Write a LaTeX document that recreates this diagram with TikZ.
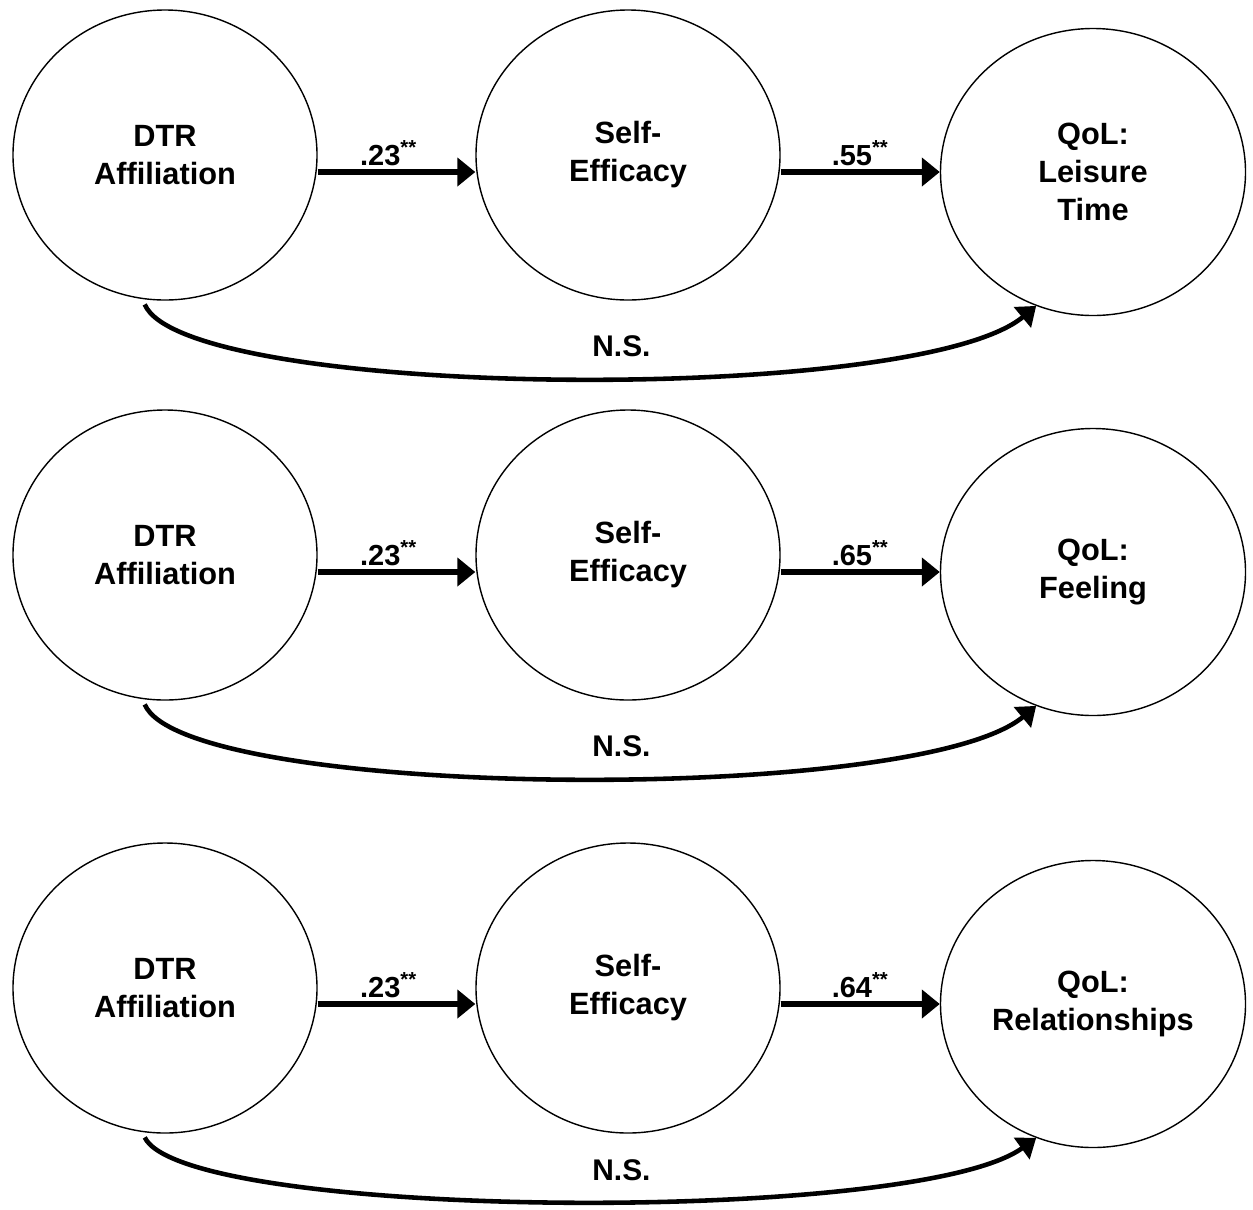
\documentclass[tikz,border=0pt]{standalone}
\usepackage{fontspec}
\setmainfont{Liberation Sans}
\usetikzlibrary{arrows.meta,calc,shapes.geometric}

\tikzset{
	latent/.style={ellipse, draw, line width=0.8pt, minimum width=6.08cm, minimum height=5.8cm, inner sep=0pt, align=center, font=\fontsize{17.5}{21.6}\selectfont\bfseries},
	outcome/.style={latent, minimum width=6.1cm, minimum height=5.74cm},
	effect/.style={line width=3pt, -{Triangle[length=3.6mm,width=5.6mm]}},
	nseffect/.style={line width=2.6pt, -{Triangle[length=3.6mm,width=5.2mm]}},
	coef/.style={above, inner sep=2pt, font=\fontsize{16.5}{18}\selectfont\bfseries},
	nslabel/.style={font=\fontsize{17}{20}\selectfont\bfseries}
}

\begin{document}
\begin{tikzpicture}
		%%%%% START %%%%%
		\useasboundingbox (0, 0) rectangle (25.06, -24.18);
		
		% leisure time
		\node[latent] (dtr1) at (3.30, -3.10) {DTR\\Affiliation};
		\node[latent] (self1) at (12.56, -3.10) {Self-\\Efficacy};
		\node[outcome] (qol1) at (21.86, -3.44) {QoL:\\Leisure\\Time};
		
		\draw[effect] (dtr1.east |- qol1.center) -- node[coef, pos=0.45] {.23\textsuperscript{**}} (self1.west |- qol1.center);
		\draw[effect] (self1.east |- qol1.center) -- node[coef] {.55\textsuperscript{**}} (qol1.west);
		\draw[nseffect] ([yshift=-1mm]dtr1.262) .. controls ($(dtr1.262)+(0.8,-2.0)$) and ($(qol1.247)+(-2.4,-2.0)$) .. (qol1.247) node[nslabel, pos=0.55, above=0.25cm] {N.S.};
		
		% feeling
		\node[latent] (dtr2) at (3.30, -11.10) {DTR\\Affiliation};
		\node[latent] (self2) at (12.56, -11.10) {Self-\\Efficacy};
		\node[outcome] (qol2) at (21.86, -11.44) {QoL:\\Feeling};
		
		\draw[effect] (dtr2.east |- qol2.center) -- node[coef, pos=0.45] {.23\textsuperscript{**}} (self2.west |- qol2.center);
		\draw[effect] (self2.east |- qol2.center) -- node[coef] {.65\textsuperscript{**}} (qol2.west);
		\draw[nseffect] ([yshift=-1mm]dtr2.262) .. controls ($(dtr2.262)+(0.8,-2.0)$) and ($(qol2.247)+(-2.4,-2.0)$) .. (qol2.247) node[nslabel, pos=0.55, above=0.25cm] {N.S.};
		
		% relationships
		\node[latent] (dtr3) at (3.30, -19.76) {DTR\\Affiliation};
		\node[latent] (self3) at (12.56, -19.76) {Self-\\Efficacy};
		\node[outcome] (qol3) at (21.86, -20.08) {QoL:\\Relationships};
		
		\draw[effect] (dtr3.east |- qol3.center) -- node[coef, pos=0.45] {.23\textsuperscript{**}} (self3.west |- qol3.center);
		\draw[effect] (self3.east |- qol3.center) -- node[coef] {.64\textsuperscript{**}} (qol3.west);
		\draw[nseffect] ([yshift=-1mm]dtr3.262) .. controls ($(dtr3.262)+(0.8,-1.75)$) and ($(qol3.247)+(-2.4,-1.75)$) .. (qol3.247) node[nslabel, pos=0.55, above=0.25cm] {N.S.};
		
		%%%%% END %%%%%
\end{tikzpicture}
\end{document}
